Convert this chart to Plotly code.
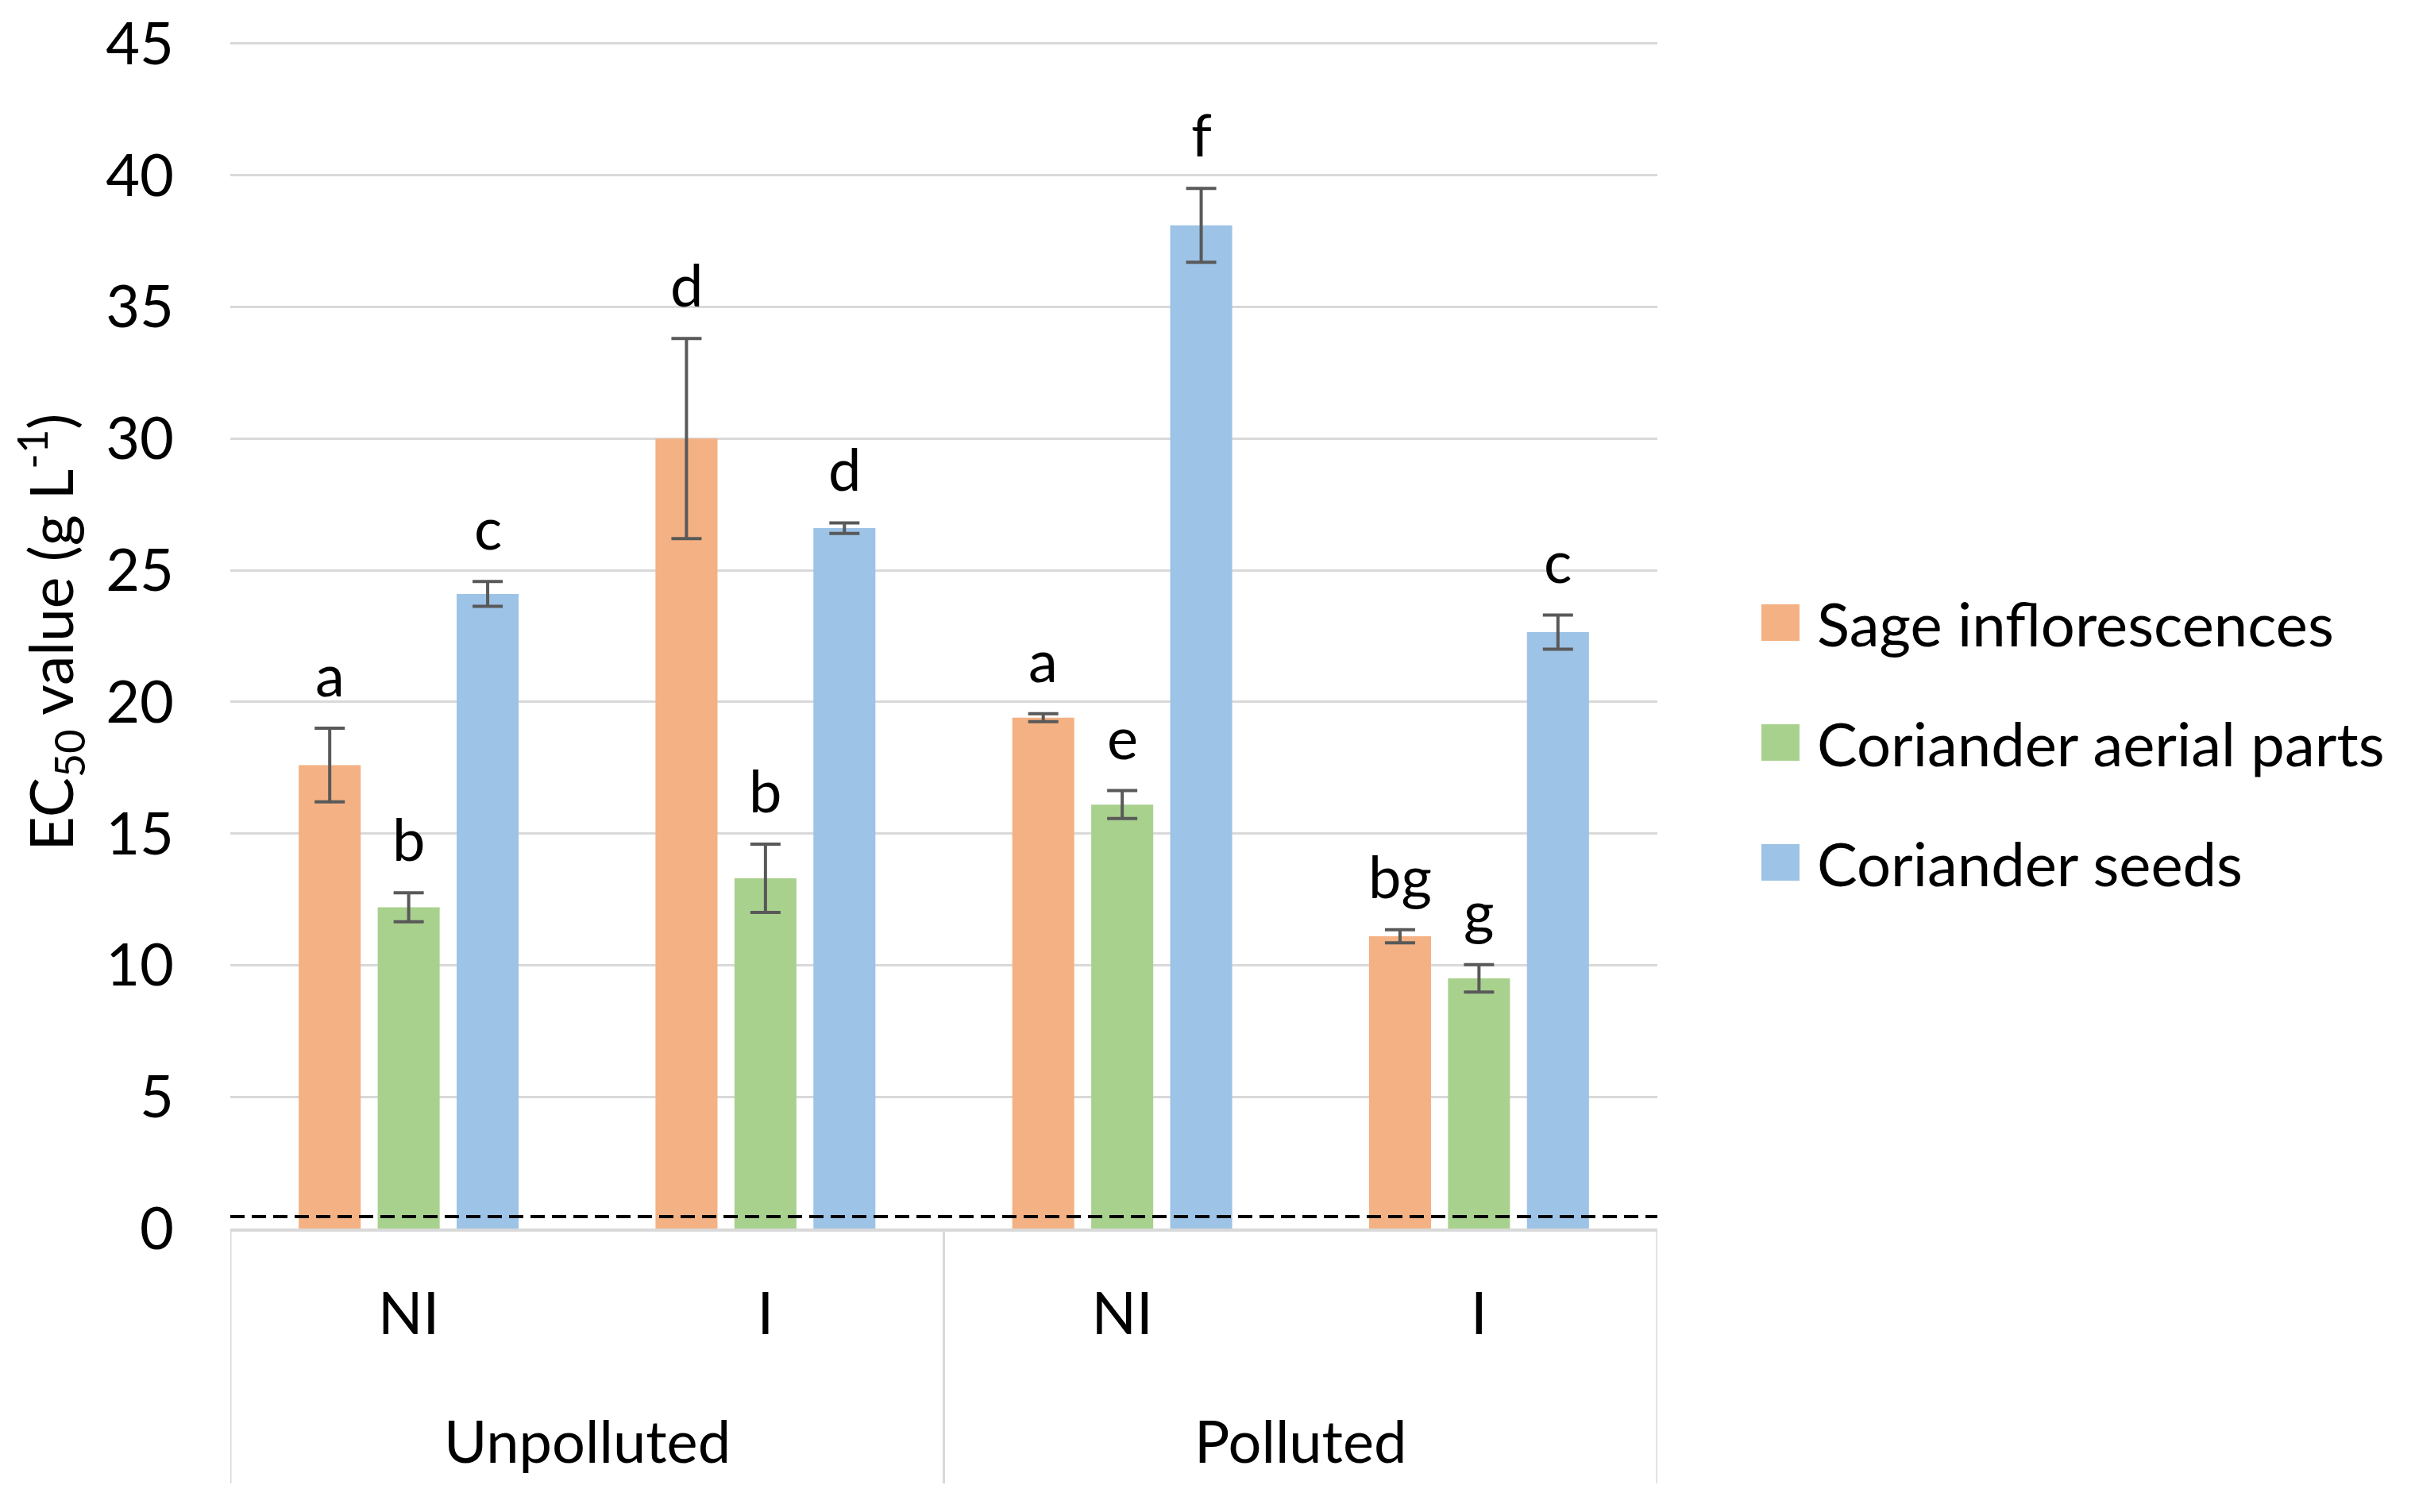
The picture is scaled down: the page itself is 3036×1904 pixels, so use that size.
import plotly.graph_objects as go

# ---------------- data ----------------
groups = ["Unpolluted", "Unpolluted", "Polluted", "Polluted"]
treatments = ["NI", "I", "NI", "I"]
series_names = ["Sage inflorescences", "Coriander aerial parts", "Coriander seeds"]

sage_values = [17.6, 30.0, 19.4, 11.1]
sage_errors = [1.4, 3.8, 0.15, 0.25]
sage_letters = ["a", "d", "a", "bg"]

aerial_values = [12.2, 13.3, 16.1, 9.5]
aerial_errors = [0.55, 1.3, 0.53, 0.52]
aerial_letters = ["b", "b", "e", "g"]

seed_values = [24.1, 26.6, 38.1, 22.65]
seed_errors = [0.47, 0.2, 1.4, 0.65]
seed_letters = ["c", "d", "f", "c"]

threshold = 0.45
y_ticks = [0, 5, 10, 15, 20, 25, 30, 35, 40, 45]
y_title = "EC<sub>50</sub> value (g L<sup>-1</sup>)"

# ---------------- style / layout ----------------
OFF = 8                      # default page margin of the html body
W, H = 3036 - OFF, 1904 - OFF
Y_MAX = 45.3
PX_PER_UNIT = (1547 - 55) / 45.0
PLOT_L, PLOT_R, PLOT_B = 290, 2087, 1547          # page pixels
PLOT_T = round(PLOT_B - Y_MAX * PX_PER_UNIT)
ML = PLOT_L - OFF
MT = PLOT_T - OFF
MR = W - (PLOT_R - OFF)
MB = H - (PLOT_B - OFF)
pw = W - ML - MR
ph = H - MT - MB

def px_x(px):   # page pixel -> paper x
    return (px - PLOT_L) / pw

def px_y(py):   # page pixel -> paper y
    return (PLOT_B - py) / ph

colors = ["#F4B183", "#A9D18E", "#9DC3E6"]
grid_col = "#D9D9D9"
err_col = "#595959"
FONT = "Lato"
FS = 74
bargap = 0.336
bargroupgap = 0.215

values = [sage_values, aerial_values, seed_values]
errors = [sage_errors, aerial_errors, seed_errors]
letters = [sage_letters, aerial_letters, seed_letters]
keys = [g + " " + t for g, t in zip(groups, treatments)]

fig = go.Figure()
for name, v, e, c in zip(series_names, values, errors, colors):
    fig.add_trace(go.Bar(
        name=name, x=keys, y=v,
        marker=dict(color=c, line=dict(width=0)),
        error_y=dict(type="data", array=e, visible=True, color=err_col,
                     thickness=4, width=19),
        showlegend=False,
    ))

# significance letters over each bar (positioned on an invisible linear axis)
n_series = len(values)
slot = (1 - bargap) / n_series
for j in range(n_series):
    for i in range(len(keys)):
        fig.add_annotation(
            x=i + (j - (n_series - 1) / 2) * slot, xref="x2",
            y=values[j][i] + errors[j][i], yref="y",
            yanchor="bottom", yshift=22, showarrow=False,
            text=letters[j][i], font=dict(family=FONT, size=FS, color="black"),
        )

# threshold dashed line
fig.add_shape(type="line", xref="paper", x0=0, x1=1, yref="y",
              y0=threshold, y1=threshold,
              line=dict(color="black", width=4, dash="18px,9px"))

# outer category row: group labels and dividers
uniq = []
for g in groups:
    if g not in uniq:
        uniq.append(g)
for g in uniq:
    idx = [i for i, gg in enumerate(groups) if gg == g]
    fig.add_annotation(x=sum(idx) / len(idx), xref="x2", y=px_y(1814),
                       yref="paper", yanchor="middle", showarrow=False,
                       text=g, font=dict(family=FONT, size=FS, color="black"))
bounds = [-0.5] + [i + 0.5 for i in range(len(groups) - 1)
                   if groups[i] != groups[i + 1]] + [len(groups) - 0.5]
for b in bounds:
    fig.add_shape(type="line", xref="x2", x0=b, x1=b, yref="paper",
                  y0=0, y1=px_y(1868), line=dict(color=grid_col, width=3))

# custom legend
leg_rows_px = [784, 935, 1086]
for name, c, py in zip(series_names, colors, leg_rows_px):
    fig.add_shape(type="rect", xref="paper", yref="paper",
                  x0=px_x(2218), x1=px_x(2266),
                  y0=px_y(py + 23), y1=px_y(py - 23),
                  fillcolor=c, line=dict(width=0))
    fig.add_annotation(xref="paper", yref="paper", x=px_x(2286),
                       y=px_y(py), xanchor="left", yanchor="middle",
                       showarrow=False, text=name,
                       font=dict(family=FONT, size=76, color="black"))

fig.update_layout(
    width=W, height=H,
    margin=dict(l=ML, r=MR, t=MT, b=MB, autoexpand=False),
    paper_bgcolor="white", plot_bgcolor="white",
    barmode="group", bargap=bargap, bargroupgap=bargroupgap,
    showlegend=False,
    font=dict(family=FONT, size=FS, color="black"),
    xaxis=dict(type="category", range=[-0.5, len(keys) - 0.5],
               tickvals=keys, ticktext=treatments,
               showline=True, linecolor=grid_col, linewidth=4,
               showgrid=False, ticks="", ticklabelstandoff=40,
               tickfont=dict(family=FONT, size=FS, color="black"),
               automargin=False),
    xaxis2=dict(overlaying="x", range=[-0.5, len(keys) - 0.5], visible=False,
                showgrid=False, zeroline=False),
    yaxis=dict(range=[0, Y_MAX], tickvals=y_ticks, showgrid=True,
               gridcolor=grid_col, gridwidth=3, zeroline=False,
               showline=False, ticks="", ticklabelstandoff=70,
               ticklabeloverflow="allow",
               tickfont=dict(family=FONT, size=FS, color="black"),
               title=dict(text=y_title, standoff=28,
                          font=dict(family=FONT, size=75, color="black")),
               automargin=False),
)

fig.write_html("out.html")
